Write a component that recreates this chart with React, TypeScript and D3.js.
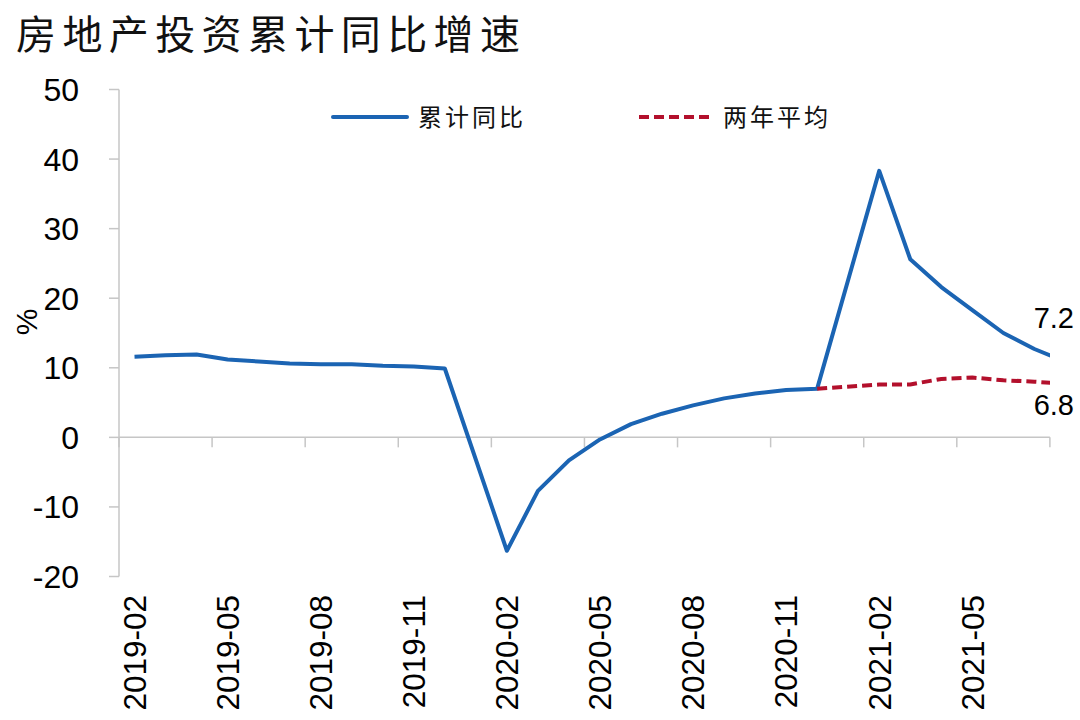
import React from "react";
import * as d3 from "d3";

const months: string[] = [
  "2019-02","2019-03","2019-04","2019-05","2019-06","2019-07","2019-08","2019-09","2019-10","2019-11","2019-12",
  "2020-01","2020-02","2020-03","2020-04","2020-05","2020-06","2020-07","2020-08","2020-09","2020-10","2020-11","2020-12",
  "2021-01","2021-02","2021-03","2021-04","2021-05","2021-06","2021-07","2021-08",
];
const cumulativeYoY: (number | null)[] = [
  11.6, 11.8, 11.9, 11.2, 10.9, 10.6, 10.5, 10.5, 10.3, 10.2, 9.9,
  null, -16.3, -7.7, -3.3, -0.3, 1.9, 3.4, 4.6, 5.6, 6.3, 6.8, 7.0,
  null, 38.3, 25.6, 21.6, 18.3, 15.0, 12.7, 10.9,
];
const twoYearAvg: (number | null)[] = [
  null, null, null, null, null, null, null, null, null, null, null,
  null, null, null, null, null, null, null, null, null, null, null, 7.0,
  null, 7.6, 7.6, 8.4, 8.6, 8.2, 8.0, 7.7,
];
const yTicks: number[] = [-20, -10, 0, 10, 20, 30, 40, 50];
const xTickLabels: string[] = [
  "2019-02","2019-05","2019-08","2019-11","2020-02","2020-05","2020-08","2020-11","2021-02","2021-05",
];
const axisEndMonth = "2021-08";
const endLabels = { yoy: "7.2", avg: "6.8" };
const title = "房地产投资累计同比增速";
const legendNames = ["累计同比", "两年平均"];

const BLUE = "#1b64b3";
const RED = "#b3102c";
const GREY = "#c6c6c6";
const NUM_FONT = "'Liberation Sans', Arial, sans-serif";
const CJK_FONT = "'Noto Sans CJK SC', sans-serif";

export default function App() {
  const W = 1080, H = 720;
  const left = 119, top = 89.5, bottom = 576.5;
  const step = 31.03;
  const x = d3.scaleBand<string>().domain(months).range([left, left + step * months.length]).paddingInner(0).paddingOuter(0);
  const y = d3.scaleLinear().domain([-20, 50]).range([bottom, top]);
  const cx = (m: string) => (x(m) as number) + x.bandwidth() / 2;
  const plotRight = x(axisEndMonth) as number;

  const mk = (vals: (number | null)[]) =>
    months.map((m, i) => ({ m, v: vals[i] })).filter((d) => d.v !== null) as { m: string; v: number }[];
  const line = d3.line<{ m: string; v: number }>().x((d) => cx(d.m)).y((d) => y(d.v));

  const tickBoundaries = xTickLabels.map((m) => x(m) as number).concat([plotRight]);
  const y0 = y(0);

  return (
    <svg width={W} height={H} style={{ display: "block", position: "absolute", left: 0, top: 0, background: "#fff" }}>
      <defs>
        <clipPath id="plot">
          <rect x={left} y={0} width={plotRight - left} height={H} />
        </clipPath>
      </defs>
      <text x={16} y={49} fontFamily={CJK_FONT} fontSize={40} letterSpacing={6.4} fill="#111">{title}</text>

      {/* y axis */}
      <line x1={left} x2={left} y1={top} y2={bottom} stroke={GREY} strokeWidth={1.5} />
      {yTicks.map((t) => (
        <g key={t}>
          <line x1={left - 10} x2={left} y1={y(t)} y2={y(t)} stroke={GREY} strokeWidth={1.5} />
          <text x={79} y={y(t)} dy="0.36em" textAnchor="end" fontFamily={NUM_FONT} fontSize={32} fill="#000">{t}</text>
        </g>
      ))}
      <text transform={`translate(37,${322}) rotate(-90)`} textAnchor="middle" fontFamily={NUM_FONT} fontSize={30} fill="#000">%</text>

      {/* x axis */}
      <line x1={left} x2={plotRight} y1={y0} y2={y0} stroke={GREY} strokeWidth={1.5} />
      {tickBoundaries.map((b, i) => (
        <line key={i} x1={b} x2={b} y1={y0} y2={y0 + 10} stroke={GREY} strokeWidth={1.5} />
      ))}
      {xTickLabels.map((m) => (
        <text key={m} transform={`translate(${cx(m)},595) rotate(-90)`} dy="0.36em" textAnchor="end" fontFamily={NUM_FONT} fontSize={31.5} fill="#000">{m}</text>
      ))}

      <g clipPath="url(#plot)">
        <path d={line(mk(cumulativeYoY)) || ""} fill="none" stroke={BLUE} strokeWidth={4} strokeLinejoin="round" />
        <path d={line(mk(twoYearAvg)) || ""} fill="none" stroke={RED} strokeWidth={4} strokeDasharray="10,5" />
      </g>

      {/* end labels */}
      <text x={1074} y={328} textAnchor="end" fontFamily={NUM_FONT} fontSize={29} fill="#000">{endLabels.yoy}</text>
      <text x={1074} y={415} textAnchor="end" fontFamily={NUM_FONT} fontSize={29} fill="#000">{endLabels.avg}</text>

      {/* legend */}
      <line x1={333} x2={407} y1={117} y2={117} stroke={BLUE} strokeWidth={4} strokeLinecap="round" />
      <text x={418} y={117} dy="0.36em" fontFamily={CJK_FONT} fontSize={24} letterSpacing={3} fill="#111">{legendNames[0]}</text>
      <line x1={639} x2={712} y1={117} y2={117} stroke={RED} strokeWidth={4} strokeDasharray="10,5" />
      <text x={723} y={117} dy="0.36em" fontFamily={CJK_FONT} fontSize={24} letterSpacing={3} fill="#111">{legendNames[1]}</text>
    </svg>
  );
}
